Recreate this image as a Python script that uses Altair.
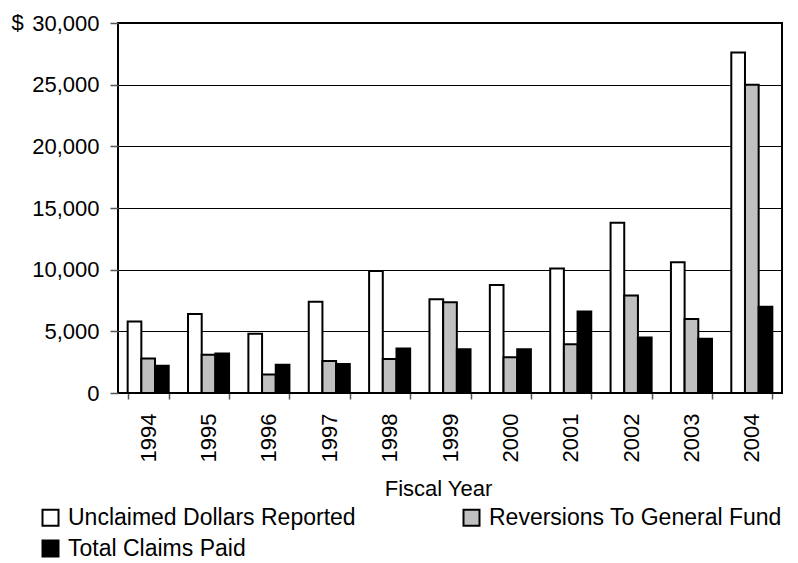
import altair as alt
import pandas as pd

years = ["1994", "1995", "1996", "1997", "1998", "1999", "2000", "2001", "2002", "2003", "2004"]
unclaimed = [5800, 6400, 4800, 7400, 9900, 7600, 8750, 10100, 13800, 10600, 27600]
reversions = [2800, 3100, 1500, 2600, 2750, 7350, 2900, 3950, 7900, 6000, 25000]
claims = [2200, 3200, 2300, 2350, 3600, 3550, 3550, 6600, 4500, 4400, 7000]
series = ["Unclaimed Dollars Reported", "Reversions To General Fund", "Total Claims Paid"]
colors = ["#ffffff", "#c0c0c0", "#000000"]
y_ticks = [0, 5000, 10000, 15000, 20000, 25000, 30000]

rows = []
for s, vals in zip(series, [unclaimed, reversions, claims]):
    for yr, v in zip(years, vals):
        rows.append({"Year": yr, "Series": s, "Value": v})
df = pd.DataFrame(rows)

FONT = "Liberation Sans"

chart = alt.Chart(df).mark_bar(stroke="black", strokeWidth=2).encode(
    x=alt.X(
        "Year:N", sort=years,
        scale=alt.Scale(paddingInner=0.32, paddingOuter=0.16),
        axis=alt.Axis(
            title="Fiscal Year", labelAngle=270, labelFont=FONT, labelFontSize=22,
            labelColor="black", tickBand="extent", tickSize=6, tickColor="#555555",
            tickWidth=1.5, labelPadding=14, domain=False,
            titleFont=FONT, titleFontSize=22, titleFontWeight="normal", titleColor="black",
            titleX=320, titleY=95, titleBaseline="middle", titleAlign="center",
        ),
    ),
    xOffset=alt.XOffset("Series:N", sort=series, scale=alt.Scale(paddingInner=0, paddingOuter=0)),
    y=alt.Y(
        "Value:Q",
        scale=alt.Scale(domain=[0, 30000], nice=False),
        axis=alt.Axis(
            values=y_ticks, format=",.0f", grid=True, gridColor="black", gridWidth=1,
            tickSize=8, tickColor="#555555", tickWidth=1.5, domain=False,
            labelFont=FONT, labelFontSize=22, labelColor="black", labelPadding=11,
            title="$", titleAngle=0, titleX=-107, titleY=-1, titleAlign="left",
            titleBaseline="middle", titleFont=FONT, titleFontSize=22,
            titleFontWeight="normal", titleColor="black",
        ),
    ),
    fill=alt.Fill(
        "Series:N", sort=series,
        scale=alt.Scale(domain=series, range=colors),
        legend=alt.Legend(
            title=None, orient="none", direction="horizontal", legendX=-79, legendY=483,
            columns=2, symbolType="square", symbolSize=256, symbolStrokeColor="black",
            symbolStrokeWidth=2, symbolOpacity=1, labelFont=FONT, labelFontSize=23,
            labelColor="black", labelOffset=6, columnPadding=103, rowPadding=6,
            padding=0, labelLimit=400,
        ),
    ),
).properties(
    width=664, height=370,
    autosize=alt.AutoSizeParams(type="none"),
    padding={"left": 110, "top": 15, "right": 8, "bottom": 168},
).configure_view(stroke="black", strokeWidth=2)

chart.save("out.html", embed_options={"renderer": "svg", "actions": False})
